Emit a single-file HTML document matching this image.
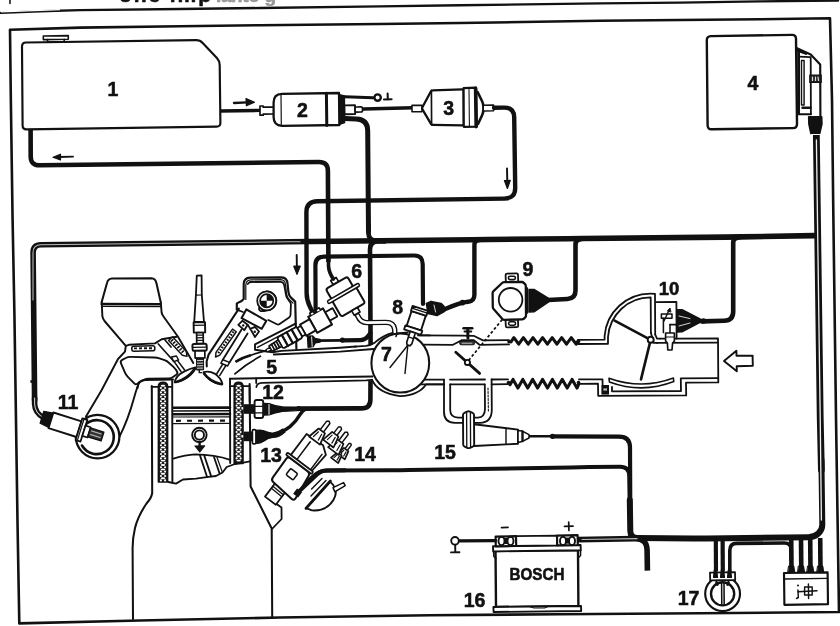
<!DOCTYPE html>
<html><head><meta charset="utf-8"><title>Schema impianto iniezione</title>
<style>
html,body{margin:0;padding:0;background:#fff;}
body{width:840px;height:626px;overflow:hidden;position:relative;font-family:"Liberation Sans",sans-serif;}
svg{position:absolute;left:0;top:0;display:block;filter:grayscale(1) blur(0.3px);}
svg text{font-family:"Liberation Sans",sans-serif;font-weight:bold;fill:#111;stroke:#111;stroke-width:0.55px;}
</style></head><body>
<svg width="840" height="626" viewBox="0 0 840 626" stroke-linecap="round" stroke-linejoin="round">
<!-- 01_frame.py -->
<path d="M1.0 12.9 L40.0 11.3 L80.0 10.1 L180.0 9.0 L260.0 8.0 L380.0 6.4 L460.0 5.3 L600.0 3.4 L680.0 2.6 L760.0 1.4 L838.0 0.6" fill="none" stroke="#111" stroke-width="2.4" />
<path d="M1.0 13.0 L60.0 10.7" fill="none" stroke="#fff" stroke-width="1.44" stroke-linecap="butt" transform="translate(0,-1.1)"/>
<path d="M10.0 0.0 L10.0 3.4" fill="none" stroke="#111" stroke-width="1.56" />
<path d="M10.0 29.8 L80.0 27.6 L180.0 26.3 L260.0 25.2 L380.0 24.0 L460.0 23.0 L600.0 20.8 L680.0 20.0 L760.0 19.3 L830.0 18.3 L832.0 100.0 L833.2 204.0 L836.0 417.0 L839.0 612.0 L700.0 613.3 L560.0 614.2 L430.0 615.2 L280.0 617.5 L140.0 620.5 L19.3 623.4 L17.5 522.0 L14.4 313.0 L12.6 220.0 L10.9 104.0 Z" fill="none" stroke="#111" stroke-width="2.6" />
<text x="165" y="2.4" font-size="21" text-anchor="middle" textLength="92">one imp</text>
<text x="246" y="1.6" font-size="19" text-anchor="middle" style="fill:#999;stroke:#999" textLength="60">ianto g</text>
<!-- 02_top.py -->
<path d="M26.6 129.3 Q22.6 129.4 22.6 125.4 L22.0 46.6 Q22.0 42.6 26.0 42.5 L196.0 40.1 Q200.0 40.0 202.7 42.9 L216.9 58.1 Q219.6 61.0 219.7 65.0 L220.4 122.6 Q220.5 126.6 216.5 126.7 Z" fill="none" stroke="#111" stroke-width="2.16" />
<path d="M43.3 36.0 L68.3 35.6 L68.3 39.2 L43.3 39.6 Z" fill="none" stroke="#111" stroke-width="1.56" />
<path d="M47.5 39.6 L47.5 42.0 L64.2 41.8 L64.2 39.3" fill="none" stroke="#111" stroke-width="1.56" />
<text x="113.0" y="95.5" font-size="19.5" text-anchor="middle" >1</text>
<path d="M220.5 111.0 L260.0 110.4" fill="none" stroke="#111" stroke-width="3.4" stroke-linecap="butt"/>
<path d="M260.0 106.0 L263.2 106.0 L263.2 107.2 L274.0 107.0 L274.0 114.0 L263.2 114.2 L263.2 115.2 L260.0 115.2 Z" fill="#fff" stroke="#111" stroke-width="1.68" />
<path d="M234.0 103.0 L247.0 102.4" fill="none" stroke="#111" stroke-width="2.4" />
<path d="M254.5 102.2 L246.0 98.6 L246.4 105.8 Z" fill="#111" stroke="#111" stroke-width="1.2" />
<path d="M30.6 129.5 L30.7 156.4 Q30.7 165.4 39.7 165.3 L318.9 162.0 Q327.9 161.9 327.9 170.9 L328.4 262.0" fill="none" stroke="#111" stroke-width="4.6" stroke-linecap="butt"/>
<path d="M59.0 157.0 L73.0 156.6" fill="none" stroke="#111" stroke-width="1.92" />
<path d="M53.0 157.2 L60.5 154.2 L60.5 160.0 Z" fill="#111" stroke="#111" stroke-width="1.2" />
<path d="M282 93.8 L339 93 L339.4 125 L282 125.8 Q273.6 125.6 273.6 117 L273.6 102.4 Q273.6 94 282 93.8 Z" fill="#fff" stroke="#111" stroke-width="2.28"/>
<path d="M281.0 94.6 L281.3 125.0" fill="none" stroke="#111" stroke-width="1.2" />
<path d="M326.4 93.2 L326.8 125.4" fill="none" stroke="#111" stroke-width="3" />
<text x="302.5" y="117.2" font-size="19.5" text-anchor="middle" >2</text>
<path d="M339.4 94.6 L344.4 96.0 L344.6 122.6 L339.6 124.4 Z" fill="#111" stroke="#111" stroke-width="1.44" />
<path d="M344.4 105.4 L355.0 105.2 L355.2 114.0 L344.6 114.2 Z" fill="#fff" stroke="#111" stroke-width="1.92" />
<path d="M355.1 108.5 Q355.0 107.0 356.5 107.0 L360.9 106.8 Q362.4 106.8 362.5 108.3 L362.5 110.5 Q362.6 112.0 361.1 112.0 L356.7 112.2 Q355.2 112.2 355.1 110.7 Z" fill="#fff" stroke="#111" stroke-width="1.68" />
<path d="M344.6 96.8 L373.0 97.8" fill="none" stroke="#111" stroke-width="3" />
<circle cx="377.6" cy="97.6" r="3.2" fill="#fff" stroke="#111" stroke-width="2.4"/>
<path d="M384.0 99.4 L391.6 99.2" fill="none" stroke="#111" stroke-width="2.04" />
<path d="M387.8 99.2 L387.6 93.6" fill="none" stroke="#111" stroke-width="2.04" />
<path d="M363.5 109.0 L413.0 107.8" fill="none" stroke="#111" stroke-width="3.4" />
<path d="M412.0 105.4 L422.0 105.2 L422.0 111.6 L412.0 111.8 Z" fill="#fff" stroke="#111" stroke-width="1.56" />
<path d="M422.4 109.4 Q421.8 108.4 422.4 107.3 L430.8 91.5 Q431.4 90.4 432.6 90.4 L462.4 89.4 Q463.6 89.4 463.6 90.6 L463.8 124.2 Q463.8 125.4 462.6 125.4 L432.8 124.8 Q431.6 124.8 431.0 123.8 Z" fill="#fff" stroke="#111" stroke-width="2.28" />
<path d="M431.4 90.4 L431.6 124.8" fill="none" stroke="#111" stroke-width="1.68" />
<path d="M463.6 88.2 L476.0 87.6 L476.6 126.6 L463.8 126.8 Z" fill="#fff" stroke="#111" stroke-width="2.16" />
<path d="M469.0 88.4 L469.4 126.4" fill="none" stroke="#111" stroke-width="1.08" />
<path d="M475.6 88.2 L476.2 126.6" fill="none" stroke="#111" stroke-width="3.6" />
<path d="M477.6 92.0 L482.1 101.3 Q483.4 104.0 483.4 107.0 L483.4 109.6 Q483.4 112.6 482.1 115.3 L478.0 124.0" fill="none" stroke="#111" stroke-width="2.6" />
<path d="M484.0 105.2 L493.6 105.0 L493.6 110.8 L484.0 111.0" fill="#fff" stroke="#111" stroke-width="1.56" />
<text x="448.6" y="115.2" font-size="19.5" text-anchor="middle" >3</text>
<path d="M494.0 107.8 L504.0 107.6 Q514.0 107.4 514.2 117.4 L515.2 187.5 Q515.4 198.5 504.4 198.6 L317.4 201.2 Q306.4 201.3 306.4 212.3 L306.6 292.8 Q306.6 300.0 309.8 306.5 L313.0 313.0" fill="none" stroke="#111" stroke-width="4.4" />
<path d="M507.0 168.5 L507.3 182.0" fill="none" stroke="#111" stroke-width="1.92" />
<path d="M507.4 188.5 L504.4 180.5 L510.3 180.4 Z" fill="#111" stroke="#111" stroke-width="1.2" />
<path d="M345.0 118.6 L356.3 119.0 Q367.6 119.4 367.7 130.7 L368.5 232.0" fill="none" stroke="#111" stroke-width="5" />
<path d="M706.8 40.2 Q706.8 36.2 710.8 36.1 L792.0 34.9 Q796.0 34.8 796.0 38.8 L797.0 124.0 Q797.0 128.0 793.0 128.1 L711.6 129.2 Q707.6 129.3 707.6 125.3 Z" fill="none" stroke="#111" stroke-width="2.4" />
<text x="753.0" y="90.0" font-size="19.5" text-anchor="middle" >4</text>
<!-- 03_wires.py -->
<path d="M34.6 400.0 L33.1 252.8 Q33.0 244.8 41.0 244.7 L272.0 242.0 Q280.0 241.9 288.0 241.8 L472.0 239.7 Q480.0 239.6 488.0 239.5 L567.0 238.7 Q575.0 238.6 583.0 238.5 L725.0 237.1 Q733.0 237.0 741.0 236.9 L814.0 235.6" fill="none" stroke="#111" stroke-width="5.6" />
<path d="M33.0 300.0 L33.0 252.8 Q33.0 244.8 41.0 244.7 L272.0 242.0 Q280.0 241.9 288.0 241.8 L300.0 241.7" fill="none" stroke="#bbb" stroke-width="1.08" />
<path d="M30.4 381.5 L35.6 381.5" fill="none" stroke="#111" stroke-width="2.64" stroke-linecap="butt"/>
<path d="M368.4 225.0 L368.4 232.8 Q368.5 240.6 376.3 240.6 L386.0 240.6" fill="none" stroke="#111" stroke-width="4.6" />
<path d="M386.0 241.4 L378.0 241.4 Q370.0 241.4 370.0 249.4 L370.6 345.0" fill="none" stroke="#111" stroke-width="4.6" stroke-linecap="butt"/>
<path d="M370.5 381.0 L370.4 399.4 Q370.4 408.4 361.4 408.4 L298.0 408.6" fill="none" stroke="#111" stroke-width="4.6" stroke-linecap="butt"/>
<path d="M318.0 340.7 L342.0 340.4" fill="none" stroke="#111" stroke-width="2.8" />
<path d="M342.0 340.4 L360.5 340.2 Q365.0 340.2 367.7 336.6 L370.4 333.0" fill="none" stroke="#111" stroke-width="4.2" />
<path d="M315.6 310.0 L315.4 265.3 Q315.4 256.8 323.9 256.7 L414.1 255.5 Q422.6 255.4 422.7 263.9 L423.0 304.0" fill="none" stroke="#111" stroke-width="4.2" />
<path d="M444.0 309.5 L451.6 306.4 Q455.0 305.0 458.5 303.8 L458.5 303.8 Q462.0 302.6 465.7 302.1 L468.2 301.8 Q474.4 301.0 474.4 294.7 L474.4 244.4 Q474.4 241.0 477.7 240.3 L481.0 239.6" fill="none" stroke="#111" stroke-width="4.4" />
<circle cx="462.5" cy="302.6" r="2.8" fill="#111"/>
<path d="M548.0 300.0 L567.5 299.0 Q575.5 298.6 575.5 290.6 L575.5 244.3 Q575.5 240.4 579.2 239.5 L583.0 238.6" fill="none" stroke="#111" stroke-width="4.6" />
<path d="M702.0 321.4 L724.2 320.8 Q733.2 320.6 733.2 311.6 L733.2 242.5 Q733.2 239.0 736.6 238.0 L740.0 237.0" fill="none" stroke="#111" stroke-width="4.6" />
<path d="M529.0 436.2 L552.0 436.3" fill="none" stroke="#111" stroke-width="2.6" />
<path d="M552.0 436.3 L619.0 436.6 Q630.0 436.6 630.0 447.6 L630.4 536.0" fill="none" stroke="#111" stroke-width="4.2" />
<circle cx="552.5" cy="436.3" r="2.6" fill="#111"/>
<path d="M297.5 491.5 L312.5 476.9 Q319.0 470.6 328.0 470.6 L391.0 470.3 Q400.0 470.3 409.0 470.1 L571.0 467.4 Q580.0 467.2 589.0 467.1 L620.0 466.7 Q629.0 466.6 629.2 475.6 L629.6 500.0" fill="none" stroke="#111" stroke-width="4" />
<path d="M629.8 500.0 L630.3 531.0 Q630.4 538.0 637.4 538.1 L693.0 538.5 Q700.0 538.6 707.0 538.5 L808.5 537.3 Q814.0 537.2 818.2 533.6 L818.2 533.6 Q822.4 530.0 822.3 524.5 L821.4 460.0" fill="none" stroke="#111" stroke-width="6" />
<path d="M816.3 132.0 L820.2 417.0 L821.4 470.0" fill="none" stroke="#111" stroke-width="6.8" />
<path d="M816.4 140.0 L820.2 417.0 L821.4 520.0" fill="none" stroke="#eee" stroke-width="1.32" />
<path d="M578.0 539.6 L635.0 538.6 Q647.0 538.4 647.1 550.4 L647.4 570.6" fill="none" stroke="#111" stroke-width="5.6" stroke-linecap="butt"/>
<path d="M582.0 539.5 L637.0 538.6" fill="none" stroke="#bbb" stroke-width="1.08" />
<!-- 04_right.py -->
<path d="M797.0 48.2 L810.7 54.5 L820.2 64.5 L820.4 116.0" fill="none" stroke="#111" stroke-width="2.16" />
<path d="M797.0 50.2 L806.0 53.6" fill="none" stroke="#111" stroke-width="2.6" />
<path d="M798.6 52.0 L798.6 113.6" fill="none" stroke="#111" stroke-width="2.8" />
<path d="M798.6 56.6 L810.7 57.2 L810.9 114.0" fill="none" stroke="#111" stroke-width="1.8" />
<path d="M798.0 114.3 L811.0 114.3" fill="none" stroke="#111" stroke-width="1.92" />
<path d="M802.5 107.8 L810.5 107.8" fill="none" stroke="#111" stroke-width="2.4" />
<rect x="801.5" y="60.5" width="2.6" height="44.5" fill="#fff" stroke="#111" stroke-width="1.44"/>
<rect x="809.8" y="75.2" width="11.4" height="7.2" fill="#222" stroke="#111" stroke-width="1.2"/>
<path d="M812.5 77.0 L812.5 80.5" fill="none" stroke="#ddd" stroke-width="1.2" />
<path d="M815.5 77.0 L815.5 80.5" fill="none" stroke="#ddd" stroke-width="1.2" />
<path d="M818.0 77.0 L818.5 80.5" fill="none" stroke="#ddd" stroke-width="1.2" />
<path d="M808.8 117.0 L821.6 117.0 L821.8 124.0 L819.6 133.5 L811.0 133.5 L809.0 124.0 Z" fill="#111" stroke="#111" stroke-width="1.8" />
<path d="M811.5 134.5 L819.5 134.5" fill="none" stroke="#fff" stroke-width="1.2" />
<path d="M784.0 573.0 L827.6 572.4 L828.0 604.2 L784.4 604.8 Z" fill="#fff" stroke="#111" stroke-width="2.16" />
<path d="M784.0 579.0 L827.6 578.4" fill="none" stroke="#111" stroke-width="1.44" />
<path d="M791.2 538.0 L791.5 571.5" fill="none" stroke="#111" stroke-width="4.6" stroke-linecap="butt"/>
<path d="M788.9 566.0 L793.8 566.0 L794.8 572.4 L788.0 572.6 Z" fill="#111" stroke="#111" stroke-width="0.96" />
<path d="M801.0 538.0 L801.3 571.5" fill="none" stroke="#111" stroke-width="4.6" stroke-linecap="butt"/>
<path d="M798.7 566.0 L803.6 566.0 L804.6 572.4 L797.8 572.6 Z" fill="#111" stroke="#111" stroke-width="0.96" />
<path d="M810.2 538.0 L810.5 571.5" fill="none" stroke="#111" stroke-width="4.6" stroke-linecap="butt"/>
<path d="M807.9 566.0 L812.8 566.0 L813.8 572.4 L807.0 572.6 Z" fill="#111" stroke="#111" stroke-width="0.96" />
<path d="M820.2 538.0 L820.5 571.5" fill="none" stroke="#111" stroke-width="4.6" stroke-linecap="butt"/>
<path d="M817.9 566.0 L822.8 566.0 L823.8 572.4 L817.0 572.6 Z" fill="#111" stroke="#111" stroke-width="0.96" />
<path d="M798.0 591.8 L817.0 590.8" fill="none" stroke="#111" stroke-width="1.44" />
<rect x="804.6" y="587" width="7.6" height="8" fill="none" stroke="#111" stroke-width="1.44"/>
<path d="M808.4 584.0 L808.6 598.5" fill="none" stroke="#111" stroke-width="1.44" />
<path d="M798.0 590.0 L798.3 597.5 L796.5 598.5" fill="none" stroke="#111" stroke-width="1.44" />
<circle cx="798" cy="585.5" r="1" fill="#111"/>
<path d="M729.8 571.0 L729.8 550.4 Q729.8 543.4 736.8 543.4 L784.2 543.0 Q791.2 543.0 791.3 550.0 L791.4 560.0" fill="none" stroke="#111" stroke-width="3.6" />
<path d="M715.8 538.5 L716.0 571.0" fill="none" stroke="#111" stroke-width="4.2" stroke-linecap="butt"/>
<path d="M722.6 538.5 L722.8 571.0" fill="none" stroke="#111" stroke-width="4.2" stroke-linecap="butt"/>
<circle cx="722.6" cy="593.8" r="17.4" fill="#fff" stroke="#111" stroke-width="2.16"/>
<path d="M710.0 572.6 L735.0 572.2 L735.2 580.0 L710.2 580.4 Z" fill="#fff" stroke="#111" stroke-width="1.8" />
<circle cx="722.6" cy="593.8" r="11.6" fill="#fff" stroke="#111" stroke-width="2.4"/>
<path d="M721.6 583.0 L721.8 604.5" fill="none" stroke="#111" stroke-width="1.56" />
<path d="M724.0 583.0 L724.2 604.5" fill="none" stroke="#111" stroke-width="1.56" />
<path d="M714.3 570.0 L716.7 570.0 L717.5 577.5 L713.5 577.5 Z" fill="#111" stroke="#111" stroke-width="1.2" />
<path d="M721.3 570.0 L723.7 570.0 L724.5 577.5 L720.5 577.5 Z" fill="#111" stroke="#111" stroke-width="1.2" />
<path d="M728.3 570.0 L730.7 570.0 L731.5 577.5 L727.5 577.5 Z" fill="#111" stroke="#111" stroke-width="1.2" />
<path d="M716.5 582.2 L717.5 584.6" fill="none" stroke="#111" stroke-width="2.64" />
<path d="M728.5 582.2 L727.5 584.6" fill="none" stroke="#111" stroke-width="2.64" />
<text x="688.5" y="604.5" font-size="19.5" text-anchor="middle" >17</text>
<path d="M495.5 551.0 L578.0 550.0 L578.4 606.0 L496.0 607.0 Z" fill="#fff" stroke="#111" stroke-width="2.4" />
<path d="M493.0 546.2 L580.6 545.0 L580.8 550.2 L493.2 551.4 Z" fill="#fff" stroke="#111" stroke-width="1.92" />
<path d="M493.4 607.0 L581.0 606.0 L581.2 611.0 L493.6 612.0 Z" fill="#fff" stroke="#111" stroke-width="1.92" />
<path d="M516.0 536.2 L557.0 535.6 L557.2 545.4 L516.2 546.0 Z" fill="#fff" stroke="#111" stroke-width="1.8" />
<path d="M495.6 536.6 L516.0 536.2 L516.2 546.0 L495.8 546.4 Z" fill="#fff" stroke="#111" stroke-width="2.16" />
<path d="M557.0 535.6 L577.6 535.2 L577.8 545.0 L557.2 545.4 Z" fill="#fff" stroke="#111" stroke-width="2.16" />
<ellipse cx="501.5" cy="541" rx="3" ry="4.2" fill="none" stroke="#111" stroke-width="1.92"/>
<ellipse cx="510.5" cy="541" rx="3" ry="4.2" fill="none" stroke="#111" stroke-width="1.92"/>
<ellipse cx="563" cy="541" rx="3" ry="4.2" fill="none" stroke="#111" stroke-width="1.92"/>
<ellipse cx="572" cy="541" rx="3" ry="4.2" fill="none" stroke="#111" stroke-width="1.92"/>
<rect x="504.4" y="538" width="3.4" height="6" fill="#111"/>
<rect x="566" y="537.6" width="3.4" height="6" fill="#111"/>
<path d="M493.6 551.5 L493.8 556.5 L496.0 558.5" fill="none" stroke="#111" stroke-width="1.44" />
<path d="M580.6 550.5 L580.6 555.5 L578.6 557.5" fill="none" stroke="#111" stroke-width="1.44" />
<path d="M530.0 606.6 L534.0 608.0 L545.0 607.8 L548.0 606.4" fill="none" stroke="#111" stroke-width="1.2" />
<text x="537.0" y="580.2" font-size="15.6" text-anchor="middle" textLength="55" lengthAdjust="spacingAndGlyphs" stroke="#111" stroke-width="0.6">BOSCH</text>
<text x="474.5" y="606.8" font-size="19.5" text-anchor="middle" >16</text>
<path d="M501.5 527.6 L508.0 527.4" fill="none" stroke="#111" stroke-width="1.68" />
<path d="M564.5 526.4 L573.0 526.2" fill="none" stroke="#111" stroke-width="1.68" />
<path d="M568.7 522.0 L568.9 530.5" fill="none" stroke="#111" stroke-width="1.68" />
<path d="M459.0 540.8 L495.5 540.6" fill="none" stroke="#111" stroke-width="3.2" />
<circle cx="455" cy="540.8" r="3.8" fill="#fff" stroke="#111" stroke-width="1.92"/>
<path d="M455.2 545.0 L455.3 552.0" fill="none" stroke="#111" stroke-width="1.92" />
<path d="M451.0 552.4 L459.4 552.2" fill="none" stroke="#111" stroke-width="1.92" />
<!-- 05_duct.py -->
<path d="M420.0 335.4 L462.0 335.6 L473.6 335.8 L483.0 340.4 L509.0 340.2" fill="none" stroke="#111" stroke-width="1.8" />
<path d="M423.0 344.6 L453.0 344.8 L461.5 340.2 L473.8 340.2 L479.5 344.8 L509.0 344.4" fill="none" stroke="#111" stroke-width="1.8" />
<rect x="459.6" y="341.6" width="15" height="3.2" rx="1.5" fill="#333" stroke="#111" stroke-width="0.96"/>
<path d="M462.0 343.2 L472.0 343.2" fill="none" stroke="#ccc" stroke-width="0.96" />
<path d="M467.8 328.5 L467.9 338.0" fill="none" stroke="#111" stroke-width="3" />
<path d="M463.6 328.2 L472.2 328.2" fill="none" stroke="#111" stroke-width="2.64" />
<path d="M464.5 331.5 L471.3 331.5" fill="none" stroke="#111" stroke-width="1.92" />
<path d="M511.0 341.9 L513.9 337.7 L518.7 344.2 L523.4 337.7 L528.2 344.2 L533.0 337.7 L537.8 344.2 L542.6 337.7 L547.4 344.2 L552.2 337.7 L556.9 344.2 L561.7 337.7 L566.5 344.2 L571.3 337.7 L576.1 344.2 L578.0 340.9" fill="none" stroke="#111" stroke-width="3.1" />
<path d="M510.0 384.7 L513.0 379.4 L517.9 388.0 L522.8 379.4 L527.7 388.0 L532.7 379.4 L537.6 388.0 L542.5 379.4 L547.5 388.0 L552.4 379.4 L557.3 388.0 L562.2 379.4 L567.2 388.0 L572.1 379.4 L577.0 388.0 L579.0 383.7" fill="none" stroke="#111" stroke-width="3.1" />
<circle cx="509" cy="341.8" r="1.8" fill="#111"/>
<circle cx="578.5" cy="341.5" r="1.8" fill="#111"/>
<circle cx="508.5" cy="382.5" r="1.8" fill="#111"/>
<circle cx="578.5" cy="382.5" r="1.8" fill="#111"/>
<path d="M578 339.8 L604.6 339.6 L604.6 336 A46 46 0 0 1 650.7 293.6 L655 293.8 L655.2 334.5" fill="none" stroke="#111" stroke-width="1.8"/>
<path d="M578 344 L608 343.8 L608 337 A42.6 42.6 0 0 1 650.7 297.4 L650.9 333" fill="none" stroke="#111" stroke-width="1.8"/>
<path d="M656.0 302.2 L676.4 302.0 L676.6 338.6 L660.0 338.6" fill="none" stroke="#111" stroke-width="1.8" />
<path d="M655.2 334.5 L657.0 338.6 L660.0 338.6" fill="none" stroke="#111" stroke-width="1.8" />
<path d="M651.0 333.0 L653.5 342.8 L657.0 342.9" fill="none" stroke="#111" stroke-width="1.8" />
<path d="M676.6 338.6 L718.0 338.4 L718.3 382.4 L686.0 382.7 L686.2 395.4 L598.2 395.8 L598.0 383.6 L579.0 383.8" fill="none" stroke="#111" stroke-width="1.8" />
<path d="M657.0 342.9 L717.6 342.6" fill="none" stroke="#111" stroke-width="1.8" />
<path d="M717.8 378.2 L680.8 378.4 L681.0 391.0 L612.0 391.3 L612.0 386.8" fill="none" stroke="#111" stroke-width="1.8" />
<path d="M579.0 379.4 L602.5 379.3 L602.6 384.6" fill="none" stroke="#111" stroke-width="1.8" />
<rect x="601.4" y="385" width="7.6" height="9.6" fill="#111"/>
<rect x="603.4" y="388.4" width="3.6" height="2.2" fill="#bbb"/>
<path d="M609 378.2 Q642 390 673.4 378 L673.8 381.6 Q642 394 609.4 382 Z" fill="#fff" stroke="#111" stroke-width="1.56"/>
<path d="M650.7 339.8 L614.6 320.6" fill="none" stroke="#111" stroke-width="2.64" />
<path d="M650.7 339.8 L641.0 379.4" fill="none" stroke="#111" stroke-width="2.64" />
<circle cx="650.7" cy="339.8" r="3" fill="#fff" stroke="#111" stroke-width="1.92"/>
<rect x="661.4" y="314" width="10.6" height="4.2" fill="#fff" stroke="#111" stroke-width="1.56"/>
<path d="M664.0 321.0 L669.6 309.0" fill="none" stroke="#111" stroke-width="1.44" />
<path d="M669.8 308.4 L667.4 311.0 L670.6 312.0 Z" fill="#111" stroke="#111" stroke-width="0.96" />
<path d="M663.4 318.2 L663.4 332.6" fill="none" stroke="#111" stroke-width="1.56" />
<path d="M670.0 324.6 L676.4 324.6" fill="none" stroke="#111" stroke-width="1.56" />
<path d="M670.0 324.6 L670.0 333.0" fill="none" stroke="#111" stroke-width="1.56" />
<path d="M665.6 333.0 L674.4 333.0 L674.4 341.0 L672.6 343.0 L672.0 350.0 L667.8 350.0 L667.4 343.0 L665.6 341.0 Z" fill="#fff" stroke="#111" stroke-width="1.68" />
<path d="M665.6 337.0 L674.4 337.0" fill="none" stroke="#111" stroke-width="1.2" />
<path d="M677.4 309.8 L682.0 309.6 L700.0 319.0 L703.0 320.4 L700.0 322.4 L682.0 331.8 L677.4 332.0 Z" fill="#111" stroke="#111" stroke-width="1.44" />
<path d="M679.0 316.0 L690.0 318.6" fill="none" stroke="#ddd" stroke-width="0.96" />
<path d="M679.0 326.0 L690.0 323.0" fill="none" stroke="#ddd" stroke-width="0.96" />
<circle cx="703.4" cy="321" r="2.8" fill="#111"/>
<text x="669.0" y="295.0" font-size="18.5" text-anchor="middle" >10</text>
<path d="M724.0 361.0 L736.4 350.8 L736.5 355.8 L752.6 355.6 L752.8 365.8 L736.7 366.2 L736.8 371.2 Z" fill="#fff" stroke="#111" stroke-width="1.92" />
<path d="M424.0 379.6 L444.0 379.6" fill="none" stroke="#111" stroke-width="1.8" />
<path d="M450.0 379.6 L485.0 379.5" fill="none" stroke="#111" stroke-width="1.8" />
<path d="M491.6 379.5 L508.0 379.4" fill="none" stroke="#111" stroke-width="1.8" />
<path d="M421.0 384.4 L444.0 384.4" fill="none" stroke="#111" stroke-width="1.8" />
<path d="M450.2 384.4 L484.6 384.3" fill="none" stroke="#111" stroke-width="1.8" />
<path d="M491.6 384.3 L508.0 384.2" fill="none" stroke="#111" stroke-width="1.8" />
<path d="M444 379.6 L444 412 Q444 422.6 455 422.8 L463 422.8" fill="none" stroke="#111" stroke-width="1.8"/>
<path d="M450.2 384.4 L450.2 410 Q450.4 417.4 458 417.6 L463 417.6" fill="none" stroke="#111" stroke-width="1.8"/>
<path d="M491.6 379.5 L491.8 410 Q491.6 422.6 480 422.8 L474 422.8" fill="none" stroke="#111" stroke-width="1.8"/>
<path d="M484.8 384.3 L485 409 Q484.8 417.4 478 417.6 L474 417.6" fill="none" stroke="#111" stroke-width="1.8"/>
<path d="M488.0 388.0 L488.4 412.0" fill="none" stroke="#111" stroke-width="1.08" stroke-dasharray="2 1.5"/>
<path d="M474.0 424.2 L518.0 429.6 L518.0 443.8 L474.0 446.0 Z" fill="#fff" stroke="#111" stroke-width="1.92" />
<path d="M506.0 428.4 L506.0 444.4" fill="none" stroke="#111" stroke-width="1.44" />
<path d="M463.0 415.0 Q463.0 413.5 464.4 412.9 L467.1 411.6 Q468.5 411.0 469.9 411.6 L472.6 412.9 Q474.0 413.5 474.0 415.0 L474.2 444.5 Q474.2 446.0 472.8 446.6 L470.0 447.8 Q468.6 448.4 467.2 447.8 L464.6 446.6 Q463.2 446.0 463.2 444.5 Z" fill="#fff" stroke="#111" stroke-width="1.92" />
<path d="M466.6 413.0 L466.8 447.0" fill="none" stroke="#111" stroke-width="1.32" />
<path d="M470.4 413.0 L470.6 447.0" fill="none" stroke="#111" stroke-width="1.32" />
<path d="M518.0 430.5 L522.0 431.0 L529.0 434.6 L529.0 438.0 L522.0 441.6 L518.0 442.6 Z" fill="#fff" stroke="#111" stroke-width="1.56" />
<path d="M522.5 431.5 L522.5 441.0" fill="none" stroke="#111" stroke-width="2.4" />
<text x="445.0" y="459.0" font-size="19.5" text-anchor="middle" >15</text>
<path d="M455.8 352.2 L479.6 373.4" fill="none" stroke="#111" stroke-width="2.8" />
<circle cx="467.4" cy="362.4" r="2.6" fill="#fff" stroke="#111" stroke-width="1.8"/>
<path d="M468.6 360.4 L503.0 318.6" fill="none" stroke="#111" stroke-width="1.74" stroke-dasharray="2.8 2.2" stroke-linecap="butt"/>
<path d="M505.6 275.1 Q505.6 273.6 507.1 273.6 L516.5 273.4 Q518.0 273.4 518.0 274.9 L518.2 280.5 Q518.2 282.0 516.7 282.0 L507.3 282.2 Q505.8 282.2 505.8 280.7 Z" fill="#fff" stroke="#111" stroke-width="1.8" />
<path d="M505.6 321.1 Q505.6 319.6 507.1 319.6 L516.5 319.4 Q518.0 319.4 518.0 320.9 L518.2 325.7 Q518.2 327.2 516.7 327.2 L507.3 327.4 Q505.8 327.4 505.8 325.9 Z" fill="#fff" stroke="#111" stroke-width="1.8" />
<path d="M492.6 293.2 Q492.6 292.0 493.5 291.2 L502.1 283.0 Q503.0 282.2 504.2 282.2 L521.8 282.0 Q523.0 282.0 523.8 282.9 L525.0 284.1 Q525.8 285.0 525.8 286.2 L526.0 315.4 Q526.0 316.6 525.2 317.4 L524.0 318.6 Q523.2 319.4 522.0 319.4 L504.4 319.8 Q503.2 319.8 502.4 318.9 L493.6 309.1 Q492.8 308.2 492.8 307.0 Z" fill="#fff" stroke="#111" stroke-width="2.28" />
<circle cx="510.6" cy="299.8" r="11.8" fill="#fff" stroke="#111" stroke-width="1.8"/>
<rect x="508.4" y="276.2" width="7" height="3.4" rx="1.6" fill="#fff" stroke="#111" stroke-width="1.56"/>
<rect x="508.6" y="321.8" width="7" height="3.4" rx="1.6" fill="#fff" stroke="#111" stroke-width="1.56"/>
<path d="M529.0 289.4 L534.0 289.4 L549.0 298.6 L549.0 301.6 L534.0 311.8 L529.0 312.0 Z" fill="#111" stroke="#111" stroke-width="1.44" />
<path d="M527.4 288.0 L527.6 313.0" fill="none" stroke="#111" stroke-width="1.44" />
<text x="528.0" y="276.4" font-size="19.5" text-anchor="middle" >9</text>
<!-- 06_plenum.py -->
<path d="M357.6 315.6 Q360.6 322.6 366.6 322.6 L386 322.4 Q393.6 322.4 394.6 329 L395 336" fill="none" stroke="#111" stroke-width="5.4"/>
<path d="M357.6 315.6 Q360.6 322.6 366.6 322.6 L386 322.4 Q393.6 322.4 394.6 329 L395 336" fill="none" stroke="#fff" stroke-width="2.6"/>
<path d="M355 346.6 L366 345.8 Q371 345.2 375 342.4 Q383 335.4 392.6 332.8" fill="none" stroke="#111" stroke-width="1.8"/>
<path d="M372 379.6 Q377 392.6 400 396.2 Q419 395 426 384.4 L444 384.4" fill="none" stroke="#111" stroke-width="1.8"/>
<ellipse cx="400.3" cy="363" rx="28.9" ry="29.6" fill="#fff" stroke="#111" stroke-width="2.04"/>

<path d="M418.0 335.4 L430.0 335.4" fill="none" stroke="#111" stroke-width="1.8" />
<text x="386.5" y="361.0" font-size="19.5" text-anchor="middle" >7</text>
<path d="M407.6 345.5 L390.0 367.5" fill="none" stroke="#111" stroke-width="1.44" />
<path d="M407.8 345.5 L405.0 373.5" fill="none" stroke="#111" stroke-width="1.44" />
<path d="M411.6 311.0 L425.8 315.6 L421.0 330.5 L406.7 325.8 Z" fill="#fff" stroke="#111" stroke-width="1.92" />
<path d="M412.6 305.9 L428.0 310.9 L426.4 315.8 L411.0 310.8 Z" fill="#fff" stroke="#111" stroke-width="1.8" />
<path d="M411.9 308.1 L427.3 313.1" fill="none" stroke="#111" stroke-width="1.32" />
<path d="M405.4 325.4 L422.3 330.9 L421.0 334.9 L404.1 329.4 Z" fill="#fff" stroke="#111" stroke-width="1.8" />
<path d="M410.2 331.4 L415.3 333.0 L411.8 343.9 L409.9 345.8 L407.1 344.9 L406.7 342.2 Z" fill="#fff" stroke="#111" stroke-width="1.68" />
<path d="M408.4 336.9 L413.5 338.6" fill="none" stroke="#111" stroke-width="1.2" />
<path d="M426.4 303.4 L431.0 301.4 L441.0 303.4 L444.0 306.4 L444.6 311.4 L437.0 315.6 L428.0 313.6 Z" fill="#111" stroke="#111" stroke-width="1.56" />
<path d="M434.0 305.0 L435.6 312.0" fill="none" stroke="#ddd" stroke-width="0.96" />
<text x="397.6" y="313.6" font-size="19.5" text-anchor="middle" >8</text>
<path d="M397.0 333.4 L408.0 332.4" fill="none" stroke="#111" stroke-width="1.56" />
<path d="M396.0 336.4 L397.0 333.4" fill="none" stroke="#111" stroke-width="1.56" />
<!-- 08_block.py -->
<path d="M151.8 386 L152.2 493 Q151.5 498 146.5 503.5 Q138 516 135 528 Q132.6 538 132.6 548 L133 619" fill="none" stroke="#111" stroke-width="2.04"/>
<path d="M249.6 384 L250.6 486.5 L271.7 528.5 L272.2 617.5" fill="none" stroke="#111" stroke-width="2.04"/>
<path d="M266.0 496.6 L281.5 507.6 L281.6 519.0 L272.0 529.0" fill="none" stroke="#111" stroke-width="1.8" />
<path d="M137.5 388 Q138 380.6 145 380 L173 379.6" fill="none" stroke="#111" stroke-width="2.04"/>
<path d="M230.0 378.7 L372.4 376.4" fill="none" stroke="#111" stroke-width="2.04" />
<path d="M158.4 482.0 L158.4 386.2 Q158.4 382.2 163.0 382.2 Q167.6 382.2 167.6 386.2 L167.6 482.0 Z" fill="#1a1a1a" stroke="#111" stroke-width="1.56"/>
<ellipse cx="163.0" cy="385.8" rx="2.3" ry="0.95" fill="#fff"/>
<circle cx="160.9" cy="388.0" r="1.05" fill="#fff"/>
<circle cx="165.1" cy="388.0" r="1.05" fill="#fff"/>
<ellipse cx="163.0" cy="390.2" rx="2.3" ry="0.95" fill="#fff"/>
<circle cx="160.9" cy="392.4" r="1.05" fill="#fff"/>
<circle cx="165.1" cy="392.4" r="1.05" fill="#fff"/>
<ellipse cx="163.0" cy="394.6" rx="2.3" ry="0.95" fill="#fff"/>
<circle cx="160.9" cy="396.8" r="1.05" fill="#fff"/>
<circle cx="165.1" cy="396.8" r="1.05" fill="#fff"/>
<ellipse cx="163.0" cy="399.0" rx="2.3" ry="0.95" fill="#fff"/>
<circle cx="160.9" cy="401.2" r="1.05" fill="#fff"/>
<circle cx="165.1" cy="401.2" r="1.05" fill="#fff"/>
<ellipse cx="163.0" cy="403.4" rx="2.3" ry="0.95" fill="#fff"/>
<circle cx="160.9" cy="405.6" r="1.05" fill="#fff"/>
<circle cx="165.1" cy="405.6" r="1.05" fill="#fff"/>
<ellipse cx="163.0" cy="407.8" rx="2.3" ry="0.95" fill="#fff"/>
<circle cx="160.9" cy="410.0" r="1.05" fill="#fff"/>
<circle cx="165.1" cy="410.0" r="1.05" fill="#fff"/>
<ellipse cx="163.0" cy="412.2" rx="2.3" ry="0.95" fill="#fff"/>
<circle cx="160.9" cy="414.4" r="1.05" fill="#fff"/>
<circle cx="165.1" cy="414.4" r="1.05" fill="#fff"/>
<ellipse cx="163.0" cy="416.6" rx="2.3" ry="0.95" fill="#fff"/>
<circle cx="160.9" cy="418.8" r="1.05" fill="#fff"/>
<circle cx="165.1" cy="418.8" r="1.05" fill="#fff"/>
<ellipse cx="163.0" cy="421.0" rx="2.3" ry="0.95" fill="#fff"/>
<circle cx="160.9" cy="423.2" r="1.05" fill="#fff"/>
<circle cx="165.1" cy="423.2" r="1.05" fill="#fff"/>
<ellipse cx="163.0" cy="425.4" rx="2.3" ry="0.95" fill="#fff"/>
<circle cx="160.9" cy="427.6" r="1.05" fill="#fff"/>
<circle cx="165.1" cy="427.6" r="1.05" fill="#fff"/>
<ellipse cx="163.0" cy="429.8" rx="2.3" ry="0.95" fill="#fff"/>
<circle cx="160.9" cy="432.0" r="1.05" fill="#fff"/>
<circle cx="165.1" cy="432.0" r="1.05" fill="#fff"/>
<ellipse cx="163.0" cy="434.2" rx="2.3" ry="0.95" fill="#fff"/>
<circle cx="160.9" cy="436.4" r="1.05" fill="#fff"/>
<circle cx="165.1" cy="436.4" r="1.05" fill="#fff"/>
<ellipse cx="163.0" cy="438.6" rx="2.3" ry="0.95" fill="#fff"/>
<circle cx="160.9" cy="440.8" r="1.05" fill="#fff"/>
<circle cx="165.1" cy="440.8" r="1.05" fill="#fff"/>
<ellipse cx="163.0" cy="443.0" rx="2.3" ry="0.95" fill="#fff"/>
<circle cx="160.9" cy="445.2" r="1.05" fill="#fff"/>
<circle cx="165.1" cy="445.2" r="1.05" fill="#fff"/>
<ellipse cx="163.0" cy="447.4" rx="2.3" ry="0.95" fill="#fff"/>
<circle cx="160.9" cy="449.6" r="1.05" fill="#fff"/>
<circle cx="165.1" cy="449.6" r="1.05" fill="#fff"/>
<ellipse cx="163.0" cy="451.8" rx="2.3" ry="0.95" fill="#fff"/>
<circle cx="160.9" cy="454.0" r="1.05" fill="#fff"/>
<circle cx="165.1" cy="454.0" r="1.05" fill="#fff"/>
<ellipse cx="163.0" cy="456.2" rx="2.3" ry="0.95" fill="#fff"/>
<circle cx="160.9" cy="458.4" r="1.05" fill="#fff"/>
<circle cx="165.1" cy="458.4" r="1.05" fill="#fff"/>
<ellipse cx="163.0" cy="460.6" rx="2.3" ry="0.95" fill="#fff"/>
<circle cx="160.9" cy="462.8" r="1.05" fill="#fff"/>
<circle cx="165.1" cy="462.8" r="1.05" fill="#fff"/>
<ellipse cx="163.0" cy="465.0" rx="2.3" ry="0.95" fill="#fff"/>
<circle cx="160.9" cy="467.2" r="1.05" fill="#fff"/>
<circle cx="165.1" cy="467.2" r="1.05" fill="#fff"/>
<ellipse cx="163.0" cy="469.4" rx="2.3" ry="0.95" fill="#fff"/>
<circle cx="160.9" cy="471.6" r="1.05" fill="#fff"/>
<circle cx="165.1" cy="471.6" r="1.05" fill="#fff"/>
<ellipse cx="163.0" cy="473.8" rx="2.3" ry="0.95" fill="#fff"/>
<circle cx="160.9" cy="476.0" r="1.05" fill="#fff"/>
<circle cx="165.1" cy="476.0" r="1.05" fill="#fff"/>
<ellipse cx="163.0" cy="478.2" rx="2.3" ry="0.95" fill="#fff"/>
<circle cx="160.9" cy="480.4" r="1.05" fill="#fff"/>
<circle cx="165.1" cy="480.4" r="1.05" fill="#fff"/>
<path d="M234.2 463.5 L234.2 386.2 Q234.2 382.2 238.6 382.2 Q243.0 382.2 243.0 386.2 L243.0 463.5 Z" fill="#1a1a1a" stroke="#111" stroke-width="1.56"/>
<ellipse cx="238.6" cy="385.8" rx="2.2" ry="0.95" fill="#fff"/>
<circle cx="236.6" cy="388.0" r="1.05" fill="#fff"/>
<circle cx="240.6" cy="388.0" r="1.05" fill="#fff"/>
<ellipse cx="238.6" cy="390.2" rx="2.2" ry="0.95" fill="#fff"/>
<circle cx="236.6" cy="392.4" r="1.05" fill="#fff"/>
<circle cx="240.6" cy="392.4" r="1.05" fill="#fff"/>
<ellipse cx="238.6" cy="394.6" rx="2.2" ry="0.95" fill="#fff"/>
<circle cx="236.6" cy="396.8" r="1.05" fill="#fff"/>
<circle cx="240.6" cy="396.8" r="1.05" fill="#fff"/>
<ellipse cx="238.6" cy="399.0" rx="2.2" ry="0.95" fill="#fff"/>
<circle cx="236.6" cy="401.2" r="1.05" fill="#fff"/>
<circle cx="240.6" cy="401.2" r="1.05" fill="#fff"/>
<ellipse cx="238.6" cy="403.4" rx="2.2" ry="0.95" fill="#fff"/>
<circle cx="236.6" cy="405.6" r="1.05" fill="#fff"/>
<circle cx="240.6" cy="405.6" r="1.05" fill="#fff"/>
<ellipse cx="238.6" cy="407.8" rx="2.2" ry="0.95" fill="#fff"/>
<circle cx="236.6" cy="410.0" r="1.05" fill="#fff"/>
<circle cx="240.6" cy="410.0" r="1.05" fill="#fff"/>
<ellipse cx="238.6" cy="412.2" rx="2.2" ry="0.95" fill="#fff"/>
<circle cx="236.6" cy="414.4" r="1.05" fill="#fff"/>
<circle cx="240.6" cy="414.4" r="1.05" fill="#fff"/>
<ellipse cx="238.6" cy="416.6" rx="2.2" ry="0.95" fill="#fff"/>
<circle cx="236.6" cy="418.8" r="1.05" fill="#fff"/>
<circle cx="240.6" cy="418.8" r="1.05" fill="#fff"/>
<ellipse cx="238.6" cy="421.0" rx="2.2" ry="0.95" fill="#fff"/>
<circle cx="236.6" cy="423.2" r="1.05" fill="#fff"/>
<circle cx="240.6" cy="423.2" r="1.05" fill="#fff"/>
<ellipse cx="238.6" cy="425.4" rx="2.2" ry="0.95" fill="#fff"/>
<circle cx="236.6" cy="427.6" r="1.05" fill="#fff"/>
<circle cx="240.6" cy="427.6" r="1.05" fill="#fff"/>
<ellipse cx="238.6" cy="429.8" rx="2.2" ry="0.95" fill="#fff"/>
<circle cx="236.6" cy="432.0" r="1.05" fill="#fff"/>
<circle cx="240.6" cy="432.0" r="1.05" fill="#fff"/>
<ellipse cx="238.6" cy="434.2" rx="2.2" ry="0.95" fill="#fff"/>
<circle cx="236.6" cy="436.4" r="1.05" fill="#fff"/>
<circle cx="240.6" cy="436.4" r="1.05" fill="#fff"/>
<ellipse cx="238.6" cy="438.6" rx="2.2" ry="0.95" fill="#fff"/>
<circle cx="236.6" cy="440.8" r="1.05" fill="#fff"/>
<circle cx="240.6" cy="440.8" r="1.05" fill="#fff"/>
<ellipse cx="238.6" cy="443.0" rx="2.2" ry="0.95" fill="#fff"/>
<circle cx="236.6" cy="445.2" r="1.05" fill="#fff"/>
<circle cx="240.6" cy="445.2" r="1.05" fill="#fff"/>
<ellipse cx="238.6" cy="447.4" rx="2.2" ry="0.95" fill="#fff"/>
<circle cx="236.6" cy="449.6" r="1.05" fill="#fff"/>
<circle cx="240.6" cy="449.6" r="1.05" fill="#fff"/>
<ellipse cx="238.6" cy="451.8" rx="2.2" ry="0.95" fill="#fff"/>
<circle cx="236.6" cy="454.0" r="1.05" fill="#fff"/>
<circle cx="240.6" cy="454.0" r="1.05" fill="#fff"/>
<ellipse cx="238.6" cy="456.2" rx="2.2" ry="0.95" fill="#fff"/>
<circle cx="236.6" cy="458.4" r="1.05" fill="#fff"/>
<circle cx="240.6" cy="458.4" r="1.05" fill="#fff"/>
<ellipse cx="238.6" cy="460.6" rx="2.2" ry="0.95" fill="#fff"/>
<path d="M172.2 379.6 L172.4 482.5" fill="none" stroke="#111" stroke-width="1.92" />
<path d="M151.6 386.8 L158.4 386.8" fill="none" stroke="#111" stroke-width="1.68" />
<path d="M167.6 386.8 L172.2 386.8" fill="none" stroke="#111" stroke-width="1.68" />
<path d="M230.2 386.2 L234.2 386.2" fill="none" stroke="#111" stroke-width="1.68" />
<path d="M243.0 386.2 L249.6 386.2" fill="none" stroke="#111" stroke-width="1.68" />
<path d="M230.0 378.6 L230.2 463.0" fill="none" stroke="#111" stroke-width="1.92" />
<path d="M173.2 407.8 L230.0 407.6" fill="none" stroke="#111" stroke-width="2.6" />
<path d="M173.2 411.0 L230.0 410.8" fill="none" stroke="#111" stroke-width="1.44" />
<path d="M173.2 414.2 L230.0 414.0" fill="none" stroke="#111" stroke-width="2.64" />
<path d="M173.2 417.0 L230.0 416.8" fill="none" stroke="#111" stroke-width="1.2" />
<path d="M176.0 420.8 L228.0 420.6" fill="none" stroke="#111" stroke-width="2.16" stroke-dasharray="5 6" stroke-linecap="butt"/>
<path d="M173.2 423.6 L230.0 423.4" fill="none" stroke="#111" stroke-width="1.32" />
<circle cx="199.4" cy="435" r="7.2" fill="#fff" stroke="#111" stroke-width="1.92"/>
<circle cx="199.4" cy="435" r="4.6" fill="#fff" stroke="#111" stroke-width="1.92"/>
<path d="M199.6 442.0 L199.7 448.0" fill="none" stroke="#111" stroke-width="2.4" />
<path d="M199.8 452.0 L195.0 446.0 L204.6 445.8 Z" fill="#111" stroke="#111" stroke-width="1.2" />
<path d="M173.3 458.6 Q186 455 195 454.4 Q215 454.6 230.2 459.8" fill="none" stroke="#111" stroke-width="1.8"/>
<path d="M168.4 482.0 L176.0 483.6 L183.0 479.5 L196.0 478.6 L208.4 476.8 L216.0 476.0 L222.5 472.5 L226.7 467.0 L235.0 464.0 L243.4 462.6 L250.0 461.4" fill="none" stroke="#111" stroke-width="1.8" />
<path d="M200.0 455.4 L207.0 476.8" fill="none" stroke="#111" stroke-width="1.8" />
<path d="M204.2 455.4 L211.2 476.4" fill="none" stroke="#111" stroke-width="1.8" />
<path d="M214.0 457.0 L219.6 473.5" fill="none" stroke="#111" stroke-width="1.8" />
<path d="M217.0 457.4 L222.4 472.4" fill="none" stroke="#111" stroke-width="1.32" />
<!-- 09_head_left.py -->
<path d="M101.7 302 L107 283 Q108 278.6 112 278.5 L151.5 278.3 Q155.4 278.4 156.4 283 L160.8 302.5" fill="none" stroke="#111" stroke-width="2.04"/>
<path d="M101.7 304.0 L160.8 304.2" fill="none" stroke="#111" stroke-width="2.4" />
<path d="M101.7 306.4 L160.8 306.6" fill="none" stroke="#111" stroke-width="1.2" />
<path d="M101.7 302 L102.4 316.5 Q103 319 104.5 321 L125.8 345.8 L125 351.7 L118 359 Q108 378 101.7 390 L86 416.5" fill="none" stroke="#111" stroke-width="1.92"/>
<path d="M160.8 302.5 L161.6 312.5 Q162 314.5 163.5 316.5 L178 336.8 L193.3 363" fill="none" stroke="#111" stroke-width="1.92"/>
<path d="M125.8 345.8 L129.0 344.8 L155.0 343.4 L161.7 339.2 L176.7 336.7" fill="none" stroke="#111" stroke-width="1.92" />
<rect x="131.8" y="346" width="23" height="5" rx="2" fill="#fff" stroke="#111" stroke-width="1.56" transform="rotate(-1 143 348)"/>
<path d="M134.0 348.4 L153.0 348.2" fill="none" stroke="#111" stroke-width="1.92" stroke-dasharray="3 2" stroke-linecap="butt"/>
<path d="M121.0 363.3 Q120.0 361.0 122.2 359.8 L125.8 358.0 Q128.0 356.8 130.5 356.9 L154.5 357.5 Q157.0 357.6 159.4 358.4 L164.6 360.2 Q167.0 361.0 168.8 362.7 L173.2 366.6 Q175.0 368.3 176.4 370.4 L176.9 371.2 Q178.3 373.3 176.3 374.7 L173.0 377.0 Q171.0 378.4 168.5 378.4 L148.5 378.8 Q146.0 378.8 143.7 379.8 L141.0 381.1 Q139.0 382.0 137.5 383.6 L137.5 383.6 Q136.0 385.2 134.5 383.6 L127.8 376.8 Q126.0 375.0 125.0 372.7 Z" fill="none" stroke="#111" stroke-width="1.92" />
<path d="M137.6 386.5 Q135.6 392 134 398 Q128 420 119.5 436.5" fill="none" stroke="#111" stroke-width="1.92"/>
<path d="M158.3 344.0 L173.3 360.8" fill="none" stroke="#111" stroke-width="1.68" />
<path d="M165.0 340.0 L171.0 347.0" fill="none" stroke="#111" stroke-width="1.68" />
<g transform="translate(170.6 338.6) rotate(47.3)"><path d="M0 -2.7 L20.2 -2.7 L24.2 0 L20.2 2.7 L0 2.7 Z" fill="#fff" stroke="#111" stroke-width="1.44"/><path d="M1.5 0 L20.2 0" stroke="#111" stroke-width="3.2" stroke-dasharray="1.6 1.5" stroke-linecap="butt" fill="none"/></g>
<path d="M171.6 357.0 L176.4 356.0 L178.6 360.0 L173.6 361.6 Z" fill="#fff" stroke="#111" stroke-width="1.44" />
<path d="M174.0 361.4 L181.0 371.5" fill="none" stroke="#111" stroke-width="1.56" />
<path d="M177.4 360.4 L184.6 370.0" fill="none" stroke="#111" stroke-width="1.56" />
<path d="M174.6 382.4 Q176 375.5 184 371.6 Q190 368.6 195.4 367.4 Q195 371.5 188 377 Q181 382 174.6 382.4 Z" fill="#fff" stroke="#111" stroke-width="1.8"/>
<path d="M176 382 Q187 379.6 195 368.6" fill="none" stroke="#111" stroke-width="2.6"/>
<path d="M196.8 275.6 L201.6 275.4 L201.8 295.0 L204.0 321.8 L194.2 322.0 L195.9 295.2 Z" fill="#fff" stroke="#111" stroke-width="1.8" />
<path d="M196.0 295.2 L201.8 295.0" fill="none" stroke="#111" stroke-width="1.2" />
<path d="M193.6 322.4 L205.0 322.2 L205.2 332.4 L193.8 332.6 Z" fill="#fff" stroke="#111" stroke-width="1.92" />
<path d="M193.7 325.4 L205.1 325.2" fill="none" stroke="#111" stroke-width="1.2" />
<path d="M196.6 332.6 L203.2 332.5 L203.3 343.4 L196.7 343.5 Z" fill="#fff" stroke="#111" stroke-width="1.68" />
<path d="M196.7 335.2 L203.2 335.1" fill="none" stroke="#111" stroke-width="1.32" />
<path d="M196.7 337.8 L203.2 337.7" fill="none" stroke="#111" stroke-width="1.32" />
<path d="M196.7 340.4 L203.2 340.3" fill="none" stroke="#111" stroke-width="1.32" />
<path d="M192.4 345.6 Q192.4 344.0 194.0 344.0 L205.0 343.8 Q206.6 343.8 206.6 345.4 L206.8 349.0 Q206.8 350.6 205.2 350.6 L194.2 350.8 Q192.6 350.8 192.6 349.2 Z" fill="#fff" stroke="#111" stroke-width="1.92" />
<path d="M192.5 347.4 L206.7 347.2" fill="none" stroke="#111" stroke-width="1.2" />
<path d="M195.0 350.8 L204.8 350.7 L204.9 358.0 L195.1 358.1 Z" fill="#fff" stroke="#111" stroke-width="1.68" />
<path d="M196.6 358.2 L203.4 358.1 L203.5 369.6 L196.8 369.8 Z" fill="#222" stroke="#111" stroke-width="1.2" />
<path d="M197.4 360.6 L202.8 360.5" fill="none" stroke="#ddd" stroke-width="0.96" />
<path d="M197.4 363.2 L202.8 363.1" fill="none" stroke="#ddd" stroke-width="0.96" />
<path d="M197.4 365.8 L202.8 365.7" fill="none" stroke="#ddd" stroke-width="0.96" />
<path d="M197.4 368.2 L202.8 368.1" fill="none" stroke="#ddd" stroke-width="0.96" />
<path d="M199.2 370.0 L199.3 372.6 L201.6 372.6" fill="none" stroke="#111" stroke-width="1.44" />
<!-- 10_head_right.py -->
<path d="M236.8 309 L236.8 303.4 L241.6 301 L243.7 299 L243.7 284 Q244 277.8 250 277.6 L281.6 277.4 Q287.2 277.6 287.6 284 L288.4 292 Q289 296 291 297.6 L295.2 301.6 L296.4 349" fill="none" stroke="#111" stroke-width="2.16"/>
<path d="M245.8 299.4 L245.8 285 Q246 280 251 279.8 L280.6 279.6 Q285.2 279.8 285.6 285 L286.4 293 Q287 297.4 289.4 299.6 L293 303" fill="none" stroke="#111" stroke-width="1.2"/>
<path d="M247.8 284.0 L248.7 283.0 Q249.6 282.0 250.9 282.0 L280.5 281.8 Q282.0 281.8 283.0 282.9 L283.0 282.9 Q284.0 284.0 284.3 285.5 L286.1 295.4 Q286.4 297.0 287.3 298.3 L290.1 302.1 Q291.0 303.4 290.9 305.0 L290.5 315.0 Q290.4 316.6 289.1 317.5 L279.6 324.1 Q278.3 325.0 276.9 324.3 L268.4 320.0" fill="none" stroke="#111" stroke-width="1.8" />
<path d="M266.7 291.3 A9.5 9.5 0 1 1 259.6 307 Q258 309.6 260.6 311 Q263.4 311.4 266.7 310.3" fill="#fff" stroke="#111" stroke-width="1.8"/>
<circle cx="266.7" cy="300.8" r="9.5" fill="#fff" stroke="#111" stroke-width="1.8"/>
<circle cx="266.7" cy="300.8" r="6.6" fill="#fff" stroke="#111" stroke-width="1.68"/>
<path d="M266.7 300.8 L266.7 294.2 A6.6 6.6 0 0 1 273.3 300.8 Z" fill="#111"/>
<path d="M266.7 300.8 L266.7 307.4 A6.6 6.6 0 0 1 260.1 300.8 Z" fill="#111"/>
<path d="M246.3 309.4 L266.4 320.8 L261.7 328.8 L241.6 318.1 Z" fill="#fff" stroke="#111" stroke-width="2.04" />
<path d="M238.3 324.8 L242.3 320.8 L247.7 324.8 L244.3 330.2 Z" fill="#fff" stroke="#111" stroke-width="1.8" />
<path d="M250.3 328.8 L255.0 326.8 L259.0 331.5 L255.0 337.0 Z" fill="#fff" stroke="#111" stroke-width="1.8" />
<circle cx="243.2" cy="325.4" r="1.2" fill="#111"/>
<circle cx="254.8" cy="331.8" r="1.2" fill="#111"/>
<path d="M247.7 324.8 L250.3 328.8" fill="none" stroke="#111" stroke-width="1.68" />
<path d="M238.9 308.6 L208.6 354.6 L206.6 361.5 L206.8 366.4" fill="none" stroke="#111" stroke-width="2.04" />
<path d="M236.6 309.6 L243.0 312.0" fill="none" stroke="#111" stroke-width="1.8" />
<g transform="translate(234.4 330.4) rotate(125.3)"><path d="M0 -2.3 L28.6 -2.3 L32.6 0 L28.6 2.3 L0 2.3 Z" fill="#fff" stroke="#111" stroke-width="1.44"/><path d="M1.5 0 L28.6 0" stroke="#111" stroke-width="2.4" stroke-dasharray="1.6 1.5" stroke-linecap="butt" fill="none"/></g>
<path d="M241.6 329.5 L222.8 359.7" fill="none" stroke="#111" stroke-width="1.8" />
<path d="M247.6 333.5 L229.5 362.4" fill="none" stroke="#111" stroke-width="1.8" />
<path d="M222.8 359.7 L229.5 362.4 L227.6 366.0 L221.0 363.2 Z" fill="#fff" stroke="#111" stroke-width="1.56" />
<path d="M222.6 364.4 L216.6 374.0" fill="none" stroke="#111" stroke-width="1.56" />
<path d="M225.8 365.6 L219.8 375.4" fill="none" stroke="#111" stroke-width="1.56" />
<path d="M203.6 372.2 Q209 370.4 214.6 373.6 Q221 378 222.4 384 Q216 384.6 209.6 379.6 Q205 376 203.6 372.2 Z" fill="#fff" stroke="#111" stroke-width="1.8"/>
<path d="M204 373.4 Q210 381.6 221.6 384.2" fill="none" stroke="#111" stroke-width="2.6"/>
<path d="M295.6 323.6 L255.0 344.3 L255.0 349.8 L272.5 352.2 L281.4 350.9 L340.0 347.7 L356.0 346.5" fill="none" stroke="#111" stroke-width="1.92" />
<path d="M295.8 327.4 L257.4 347.4" fill="none" stroke="#111" stroke-width="1.44" />
<path d="M273.8 354.5 L340.0 351.6 L373.6 349.0" fill="none" stroke="#111" stroke-width="1.8" />
<path d="M268.4 350.3 Q252 353.5 236.2 361.2" fill="none" stroke="#111" stroke-width="1.8"/>
<path d="M250 355.6 Q242 357.8 236.4 361.4" fill="none" stroke="#111" stroke-width="2.6"/>
<path d="M260.4 356.3 Q246 364 234.9 373.8" fill="none" stroke="#111" stroke-width="1.8"/>
<text x="271.8" y="374.2" font-size="19.5" text-anchor="middle" >5</text>
<!-- 10b_reg.py -->
<path d="M330.7 280.5 L336.1 277.4 L338.6 281.7 L333.2 284.8 Z" fill="#fff" stroke="#111" stroke-width="1.68" />
<path d="M327.0 291.2 Q325.8 289.1 327.8 287.9 L345.3 277.8 Q347.4 276.6 348.6 278.7 L352.2 284.9 Q353.4 287.0 351.3 288.2 L333.8 298.3 Q331.8 299.5 330.6 297.4 Z" fill="#fff" stroke="#111" stroke-width="2.04" />
<path d="M333.4 303.1 Q332.2 301.1 334.3 299.9 L354.0 288.5 Q356.1 287.3 357.3 289.3 L364.0 301.0 Q365.2 303.0 363.1 304.2 L343.4 315.6 Q341.3 316.8 340.1 314.8 Z" fill="#fff" stroke="#111" stroke-width="2.04" />
<path d="M327.8 302.2 Q327.1 301.0 328.3 300.3 L357.1 283.7 Q358.3 283.0 359.0 284.2 L359.2 284.6 Q359.9 285.8 358.7 286.5 L329.9 303.1 Q328.7 303.8 328.0 302.6 Z" fill="#fff" stroke="#111" stroke-width="1.56" />
<path d="M351.7 310.8 L357.4 307.5 L360.0 312.0 L354.3 315.3 Z" fill="#fff" stroke="#111" stroke-width="1.68" />
<text x="356.6" y="278.0" font-size="19.5" text-anchor="middle" >6</text>
<path d="M328.5 258 L328.5 266 Q329 273 333.4 279" fill="none" stroke="#111" stroke-width="3.6"/>
<path d="M324.7 312.5 L332.6 308.1 L337.3 316.5 L329.4 320.9 Z" fill="#fff" stroke="#111" stroke-width="1.8" />
<path d="M308.2 316.8 L323.0 308.4 L332.0 324.5 L317.2 332.8 Z" fill="#fff" stroke="#111" stroke-width="2.04" />
<path d="M300.0 324.6 L309.6 319.2 L315.8 330.4 L306.3 335.8 Z" fill="#fff" stroke="#111" stroke-width="1.92" />
<path d="M297.2 327.8 L300.7 325.9 L305.6 334.6 L302.1 336.5 Z" fill="#fff" stroke="#111" stroke-width="1.68" />
<path d="M278.0 339.6 Q277.0 337.8 278.7 336.8 L294.8 327.8 Q296.6 326.8 297.6 328.5 L301.7 335.8 Q302.7 337.6 300.9 338.6 L284.8 347.6 Q283.1 348.6 282.1 346.9 Z" fill="#fff" stroke="#111" stroke-width="1.8" />
<path d="M281.9 335.1 L287.9 345.9" fill="none" stroke="#111" stroke-width="2.28" />
<path d="M286.7 332.3 L292.8 343.1" fill="none" stroke="#111" stroke-width="2.28" />
<path d="M291.6 329.6 L297.7 340.4" fill="none" stroke="#111" stroke-width="2.28" />
<path d="M269.0 346.0 L278.2 339.9 L281.9 346.5 L271.9 351.2 Z" fill="#fff" stroke="#111" stroke-width="1.56" />
<path d="M271.5 344.4 L274.6 349.9" fill="none" stroke="#111" stroke-width="1.8" />
<path d="M273.9 343.0 L277.1 348.6" fill="none" stroke="#111" stroke-width="1.8" />
<path d="M276.4 341.6 L279.5 347.2" fill="none" stroke="#111" stroke-width="1.8" />
<path d="M265.9 349.8 L269.7 347.2 L271.2 350.0 L267.1 351.9 Z" fill="#fff" stroke="#111" stroke-width="1.32" />
<path d="M310.8 315.3 L309.6 313.2 L313.1 311.3 L314.3 313.4" fill="#fff" stroke="#111" stroke-width="1.56" />
<path d="M316.9 311.9 L315.7 309.8 L319.2 307.8 L320.4 309.9" fill="#fff" stroke="#111" stroke-width="1.56" />
<path d="M307.6 336.4 L312.6 336.0 L315.0 338.6 L320.0 339.4 L320.0 342.0 L315.2 342.8 L313.0 346.6 L308.2 347.2 Z" fill="#111" stroke="#111" stroke-width="1.56" />
<path d="M311.6 337.0 L312.2 346.4" fill="none" stroke="#eee" stroke-width="0.96" />
<circle cx="342.4" cy="340" r="2.6" fill="#111"/>
<path d="M296.7 255.0 L296.9 268.0" fill="none" stroke="#111" stroke-width="1.92" />
<path d="M297.0 274.4 L293.8 266.2 L300.2 266.2 Z" fill="#111" stroke="#111" stroke-width="1.2" />
<!-- 11_sensors.py -->
<circle cx="97.6" cy="436.6" r="21.8" fill="#fff" stroke="#111" stroke-width="2.28"/>
<path d="M85.5 424.4 A17 17 0 1 1 82 445.5" fill="none" stroke="#111" stroke-width="2.6"/>
<path d="M34.6 398 L34.6 404 Q35 413 43.5 417.6" fill="none" stroke="#111" stroke-width="5.6"/>
<path d="M34.6 398 L34.6 404 Q35 413 43.5 417.6" fill="none" stroke="#ccc" stroke-width="1.08"/>
<path d="M43.8 411.3 L53.2 413.1 L48.7 427.5 L40.1 423.2 Z" fill="#111" stroke="#111" stroke-width="1.2" />
<path d="M53.4 412.5 L81.5 421.3 L76.5 437.0 L48.5 428.1 Z" fill="#fff" stroke="#111" stroke-width="1.92" />
<path d="M82.4 418.3 L87.4 419.8 L80.5 441.6 L75.6 440.0 Z" fill="#fff" stroke="#111" stroke-width="1.8" />
<path d="M84.1 418.8 L77.3 440.6" fill="none" stroke="#111" stroke-width="1.2" />
<path d="M85.6 425.6 L90.7 427.2 L87.5 437.5 L82.3 435.9 Z" fill="#fff" stroke="#111" stroke-width="1.68" />
<path d="M90.5 427.9 L103.8 432.2 L101.1 440.9 L87.7 436.7 Z" fill="#333" stroke="#111" stroke-width="1.44" />
<path d="M91.6 431.0 L101.1 434.0" fill="none" stroke="#bbb" stroke-width="1.2" />
<path d="M90.5 434.5 L100.1 437.5" fill="none" stroke="#bbb" stroke-width="1.2" />
<text x="68.0" y="409.4" font-size="19.5" text-anchor="middle" >11</text>
<path d="M256.2 378.6 L256.2 383.0" fill="none" stroke="#111" stroke-width="1.8" />
<path d="M256.4 387 Q256.6 383 262 382.8 L366 380.4 L372 379.8" fill="none" stroke="#111" stroke-width="1.8"/>
<path d="M249.6 388.0 L249.7 402.0" fill="none" stroke="#111" stroke-width="1.8" />
<rect x="243.6" y="404.2" width="11" height="9.6" fill="#111"/>
<rect x="241.2" y="406.6" width="2.6" height="3.4" fill="#fff" stroke="#111" stroke-width="0.96"/>
<path d="M254.6 402.0 Q254.6 400.0 256.6 400.0 L261.2 400.0 Q263.2 400.0 263.2 402.0 L263.2 416.0 Q263.2 418.0 261.2 418.0 L256.6 418.0 Q254.6 418.0 254.6 416.0 Z" fill="#fff" stroke="#111" stroke-width="1.92" />
<path d="M254.6 406.4 L263.2 406.4" fill="none" stroke="#111" stroke-width="1.2" />
<path d="M254.6 412.8 L263.2 412.8" fill="none" stroke="#111" stroke-width="1.2" />
<path d="M263.4 403.4 L269 403.6 Q275 406 282.5 406.8 L297 407 L297 410.6 L282.5 411.4 Q275 412.4 269 415 L263.4 415.2 Z" fill="#111" stroke="#111" stroke-width="1.2"/>
<path d="M269.0 404.6 L269.0 414.2" fill="none" stroke="#eee" stroke-width="1.08" />
<circle cx="298.4" cy="408.6" r="2.7" fill="#111"/>
<text x="273.0" y="399.2" font-size="19.5" text-anchor="middle" >12</text>
<rect x="243.6" y="431.6" width="8.8" height="9.6" fill="#111"/>
<rect x="241.2" y="434.6" width="2.6" height="3.4" fill="#fff" stroke="#111" stroke-width="0.96"/>
<path d="M252.4 431.0 Q252.4 429.6 253.8 429.6 L254.6 429.6 Q256.0 429.6 256.0 431.0 L256.0 442.4 Q256.0 443.8 254.6 443.8 L253.8 443.8 Q252.4 443.8 252.4 442.4 Z" fill="#fff" stroke="#111" stroke-width="1.68" />
<path d="M256.2 430.4 Q262 429.4 266 431.6 Q270 433.4 273 433 Q279 432 283 429 L285 432 Q279 437.4 273 437.4 Q268 437.6 264 441 Q260 444 256.2 443.2 Z" fill="#111" stroke="#111" stroke-width="1.2"/>
<path d="M273 435 Q283 432 290 426.6 Q296 421.6 300 414.6 Q302.6 410 306.5 408.6" fill="none" stroke="#111" stroke-width="3.4"/>
<text x="271.0" y="461.6" font-size="19.5" text-anchor="middle" >13</text>
<text x="365.0" y="460.8" font-size="19.5" text-anchor="middle" >14</text>
<!-- 12_dist.py -->
<path d="M275.3 483.0 L286.0 491.2 L275.8 504.7 L265.0 496.6 Z" fill="#fff" stroke="#111" stroke-width="1.8" />
<path d="M272.9 486.2 L283.3 494.8" fill="none" stroke="#111" stroke-width="1.32" />
<path d="M271.4 488.2 L281.8 496.8" fill="none" stroke="#111" stroke-width="1.32" />
<path d="M286.0 459.1 Q288.0 456.3 290.7 458.4 L307.6 471.1 Q310.3 473.1 308.6 476.1 L295.8 498.0 Q294.1 501.0 291.5 498.7 L273.4 482.3 Q270.9 480.0 272.9 477.3 Z" fill="#fff" stroke="#111" stroke-width="2.04" />
<path d="M289.7 469.7 Q290.7 468.4 292.0 469.3 L296.6 472.8 Q297.9 473.8 296.9 475.1 L294.0 478.9 Q293.1 480.2 291.8 479.2 L287.2 475.7 Q285.9 474.8 286.8 473.5 Z" fill="#fff" stroke="#111" stroke-width="1.56" />
<path d="M290.7 455.1 L311.8 471.0 L325.9 454.9 L323.1 445.3 L306.6 434.0 Z" fill="#fff" stroke="#111" stroke-width="1.8" />
<path d="M297.0 459.4 L310.2 441.8" fill="none" stroke="#111" stroke-width="1.56" />
<path d="M310.6 469.6 L322.0 454.4" fill="none" stroke="#111" stroke-width="1.56" />
<path d="M286.6 453.8 Q285.9 454.8 286.9 455.5 L310.5 473.3 Q311.5 474.0 312.2 473.1 L312.4 472.8 Q313.2 471.8 312.2 471.1 L288.6 453.3 Q287.6 452.5 286.9 453.5 Z" fill="#fff" stroke="#111" stroke-width="1.8" />
<path d="M344.4 449.5 L346.7 451.2 L351.3 445.1 L350.7 443.5 L349.0 443.4 Z" fill="#fff" stroke="#111" stroke-width="1.44" />
<path d="M337.2 453.5 L344.8 459.3 L348.4 451.3 L343.9 447.9 Z" fill="#fff" stroke="#111" stroke-width="1.68" />
<path d="M340.3 453.5 L343.8 450.2" fill="none" stroke="#111" stroke-width="1.2" />
<path d="M343.7 456.0 L346.1 451.9" fill="none" stroke="#111" stroke-width="1.2" />
<path d="M337.9 453.8 L340.0 455.5 L341.6 453.3 L341.1 451.8 L339.5 451.7 Z" fill="#fff" stroke="#111" stroke-width="1.44" />
<path d="M331.0 457.7 L338.2 463.1 L341.6 455.6 L337.3 452.3 Z" fill="#fff" stroke="#111" stroke-width="1.68" />
<path d="M334.0 457.7 L337.2 454.5" fill="none" stroke="#111" stroke-width="1.2" />
<path d="M337.1 460.0 L339.4 456.1" fill="none" stroke="#111" stroke-width="1.2" />
<path d="M338.0 441.5 L341.1 443.9 L348.2 434.5 L347.4 432.3 L345.0 432.2 Z" fill="#fff" stroke="#111" stroke-width="1.44" />
<path d="M328.1 447.1 L338.5 454.9 L343.5 444.0 L337.2 439.3 Z" fill="#fff" stroke="#111" stroke-width="1.68" />
<path d="M332.4 447.0 L337.1 442.5" fill="none" stroke="#111" stroke-width="1.2" />
<path d="M336.9 450.5 L340.2 444.8" fill="none" stroke="#111" stroke-width="1.2" />
<path d="M333.0 434.1 L336.1 436.5 L341.6 429.2 L340.8 427.0 L338.5 426.9 Z" fill="#fff" stroke="#111" stroke-width="1.44" />
<path d="M323.1 439.7 L333.5 447.5 L338.5 436.6 L332.2 431.9 Z" fill="#fff" stroke="#111" stroke-width="1.68" />
<path d="M327.4 439.6 L332.1 435.1" fill="none" stroke="#111" stroke-width="1.2" />
<path d="M331.9 443.1 L335.2 437.4" fill="none" stroke="#111" stroke-width="1.2" />
<path d="M319.4 430.8 L322.6 433.2 L329.9 423.5 L329.1 421.2 L326.7 421.1 Z" fill="#fff" stroke="#111" stroke-width="1.44" />
<path d="M309.1 436.5 L319.9 444.7 L325.0 433.3 L318.6 428.5 Z" fill="#fff" stroke="#111" stroke-width="1.68" />
<path d="M313.5 436.5 L318.5 431.8" fill="none" stroke="#111" stroke-width="1.2" />
<path d="M318.3 440.1 L321.7 434.2" fill="none" stroke="#111" stroke-width="1.2" />
<path d="M330 481.6 Q339.5 490 333.4 500 Q326.5 511.5 312 510.4 L306 508.2 Z" fill="#fff" stroke="#111" stroke-width="1.92"/>
<path d="M330.4 481.0 L306.0 508.4" fill="none" stroke="#111" stroke-width="2.8" />
<path d="M326.0 480.4 L311.0 496.0" fill="none" stroke="#111" stroke-width="1.44" />
<path d="M322.0 478.4 L311.6 489.0" fill="none" stroke="#111" stroke-width="1.44" />
<path d="M333.0 487.6 L343.6 482.6 L345.2 485.6 L334.8 491.8 Z" fill="#fff" stroke="#111" stroke-width="1.56" />
<rect x="-3.2" y="-3.2" width="6.4" height="6.4" fill="#111" transform="translate(297.6 493) rotate(37)"/>
<path d="M298.4 492 L317.5 474 Q321 470.4 326 470.4 L345 470.2" fill="none" stroke="#111" stroke-width="4"/>
</svg>
</body></html>
